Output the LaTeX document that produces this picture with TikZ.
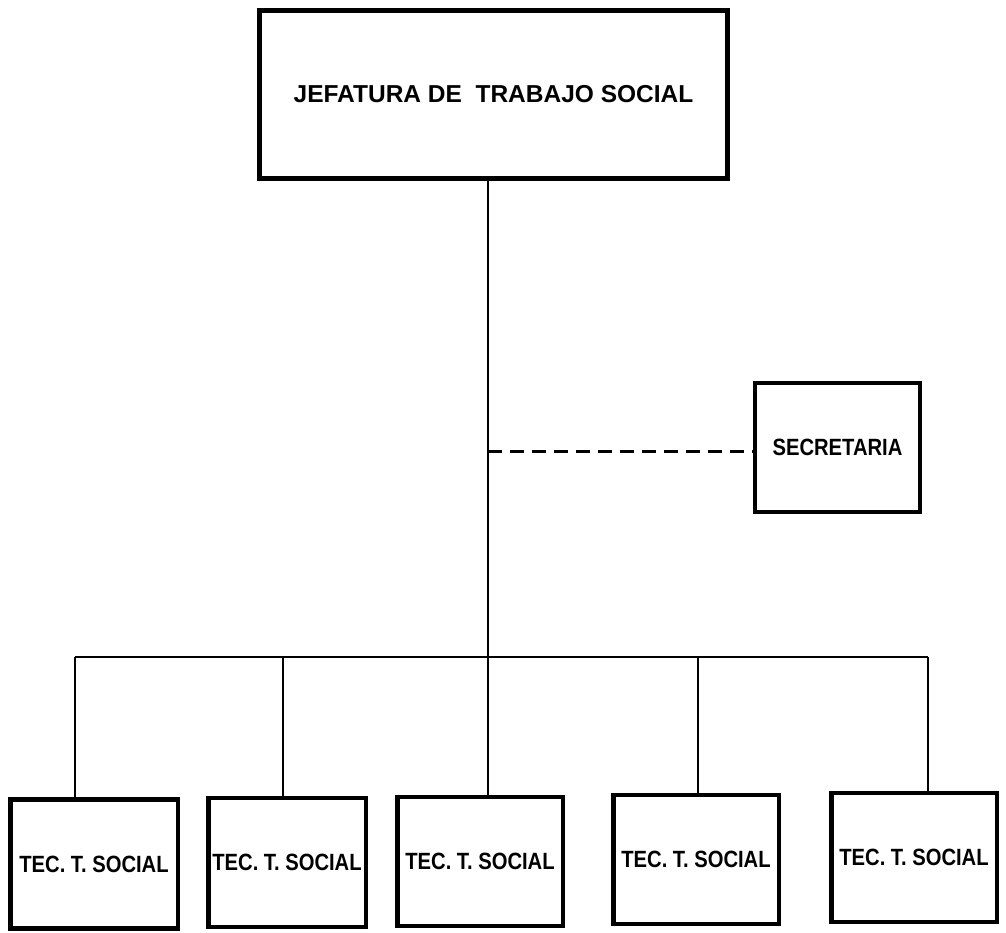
\documentclass[tikz,border=0pt]{standalone}
\usepackage{fontspec}
\setmainfont{Liberation Sans}
\newfontfamily\narrowbold{Liberation Sans}[FakeStretch=0.86]
\begin{document}
\begin{tikzpicture}[x=1pt,y=-1pt,
  headbox/.style={draw, line width=5pt, inner sep=0pt,
    minimum width=468pt, minimum height=168pt,
    font=\fontsize{24.5}{28}\selectfont\bfseries},
  secbox/.style={draw, line width=3.5pt, inner sep=0pt,
    minimum width=165pt, minimum height=129pt,
    font=\narrowbold\fontsize{23.5}{28}\selectfont\bfseries},
  tecbox/.style={draw, line width=4.5pt, inner sep=0pt,
    minimum height=129pt,
    font=\narrowbold\fontsize{23.5}{28}\selectfont\bfseries},
  link/.style={line width=2.2pt},
  dashlink/.style={line width=2.2pt, dash pattern=on 14pt off 8pt}]
\useasboundingbox (0,0) rectangle (1006,933);

% boxes
\node[headbox] (head) at (493.5,94.5) {JEFATURA DE\ \ TRABAJO SOCIAL};
\node[secbox] (sec) at (837.5,447.5) {SECRETARIA};
\node[tecbox, minimum width=167.5pt] (b1) at (94,864) {TEC. T. SOCIAL};
\node[tecbox, minimum width=157.5pt] (b2) at (287,862.5) {TEC. T. SOCIAL};
\node[tecbox, minimum width=165.5pt] (b3) at (480,861.5) {TEC. T. SOCIAL};
\node[tecbox, minimum width=165.5pt] (b4) at (696,859.5) {TEC. T. SOCIAL};
\node[tecbox, minimum width=165.5pt] (b5) at (914,857.5) {TEC. T. SOCIAL};

% bus points
\coordinate (d1) at (75,657);
\coordinate (d2) at (283,657);
\coordinate (d3) at (488,657);
\coordinate (d4) at (698,657);
\coordinate (d5) at (928,657);
\coordinate (staff) at ([yshift=-4pt]sec.west);

% trunk and staff link
\draw[link] (head.south -| d3) -- (d3);
\draw[dashlink] (staff -| d3) -- (staff);

% horizontal bus and drops
\draw[link] (d1) -- (d5);
\draw[link] (d1) -- (d1 |- b1.north);
\draw[link] (d2) -- (d2 |- b2.north);
\draw[link] (d3) -- (d3 |- b3.north);
\draw[link] (d4) -- (d4 |- b4.north);
\draw[link] (d5) -- (d5 |- b5.north);
\end{tikzpicture}
\end{document}
